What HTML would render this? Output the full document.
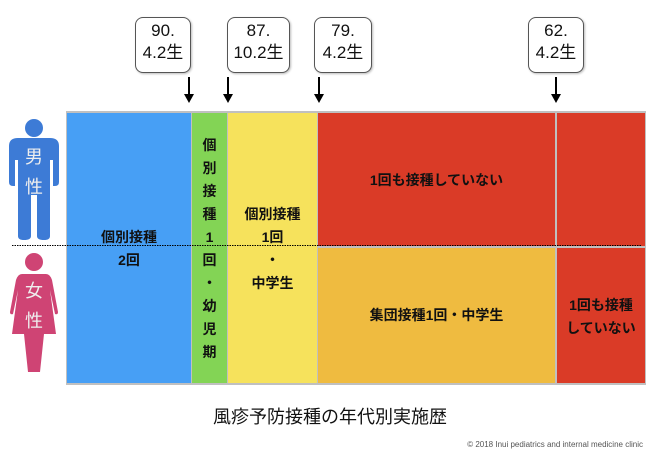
<!DOCTYPE html>
<html><head><meta charset="utf-8"><style>
body{margin:0;background:#fff;width:660px;height:462px;position:relative;overflow:hidden;font-family:"Liberation Sans","Noto Sans CJK JP",sans-serif;}
.a{position:absolute}
.box{position:absolute;border:1px solid #555;border-radius:8px;background:#fff;text-align:center;font-size:17px;line-height:22px;color:#111;top:17px;height:52px;padding-top:2px;box-shadow:1px 1px 2px #bbb}
.t{position:absolute;font-weight:bold;font-size:14px;color:#111;text-align:center;line-height:23px}
</style></head><body>
<div class="box" style="left:135px;width:54px">90.<br>4.2生</div>
<div class="box" style="left:227px;width:61px">87.<br>10.2生</div>
<div class="box" style="left:314px;width:56px">79.<br>4.2生</div>
<div class="box" style="left:528px;width:54px">62.<br>4.2生</div>
<svg class="a" style="left:0;top:0" width="660" height="462">
<g stroke="#000" stroke-width="2" fill="#000">
<line x1="189" y1="77" x2="189" y2="96"/><polygon points="184,94 194,94 189,103" stroke="none"/>
<line x1="228" y1="77" x2="228" y2="96"/><polygon points="223,94 233,94 228,103" stroke="none"/>
<line x1="319" y1="77" x2="319" y2="96"/><polygon points="314,94 324,94 319,103" stroke="none"/>
<line x1="556" y1="77" x2="556" y2="96"/><polygon points="551,94 561,94 556,103" stroke="none"/>
</g>
<rect x="66" y="111" width="580" height="274" fill="#c0c0c0"/>
<rect x="67" y="113" width="124" height="270" fill="#479ff5"/>
<rect x="192" y="113" width="35" height="270" fill="#83d455"/>
<rect x="228" y="113" width="89" height="270" fill="#f6e25c"/>
<rect x="318" y="113" width="237" height="133" fill="#da3b27"/>
<rect x="557" y="113" width="88" height="133" fill="#da3b27"/>
<rect x="318" y="248" width="237" height="135" fill="#efbb40"/>
<rect x="557" y="248" width="88" height="135" fill="#da3b27"/>
<line x1="12" y1="245.5" x2="642" y2="245.5" stroke="#000" stroke-width="1" stroke-dasharray="1.5,1"/>
<g fill="#3d7bd6">
<circle cx="34" cy="128" r="9"/>
<path d="M9,146 Q9,138 18,138 L50,138 Q59,138 59,146 L59,182 Q59,186 55,186 L53,186 L53,160 L50,160 L50,236 Q50,240 44,240 Q37,240 37,236 L37,195 L31,195 L31,236 Q31,240 24,240 Q18,240 18,236 L18,160 L15,160 L15,186 L13,186 Q9,186 9,182 Z"/>
</g>
<g fill="#cf4474">
<circle cx="34" cy="262" r="9"/>
<path d="M22,274 L46,274 Q50,274 52,280 L58,312 Q58,315 55,314 L50,290 L56,334 L44,334 L40,372 L28,372 L24,334 L12,334 L18,290 L13,314 Q10,315 10,312 L16,280 Q18,274 22,274 Z"/>
</g>
<g fill="#eee" font-size="18" font-family="Liberation Sans,Noto Sans CJK JP,sans-serif" text-anchor="middle">
<text x="34" y="163">男</text><text x="34" y="193">性</text>
<text x="34" y="297">女</text><text x="34" y="327">性</text>
</g>
</svg>
<div class="t" style="left:67px;width:124px;top:226px">個別接種<br>2回</div>
<div class="t" style="left:192px;width:35px;top:134px">個<br>別<br>接<br>種<br>1<br>回<br>・<br>幼<br>児<br>期</div>
<div class="t" style="left:228px;width:89px;top:203px">個別接種<br>1回<br>・<br>中学生</div>
<div class="t" style="left:318px;width:237px;top:169px">1回も接種していない</div>
<div class="t" style="left:318px;width:237px;top:304px">集団接種1回・中学生</div>
<div class="t" style="left:557px;width:88px;top:294px">1回も接種<br>していない</div>
<div class="a" style="left:0;width:660px;top:403px;text-align:center;font-size:18px;color:#111">風疹予防接種の年代別実施歴</div>
<div class="a" style="right:17px;top:440px;font-size:8px;color:#555">© 2018 Inui pediatrics and internal medicine clinic</div>
</body></html>
